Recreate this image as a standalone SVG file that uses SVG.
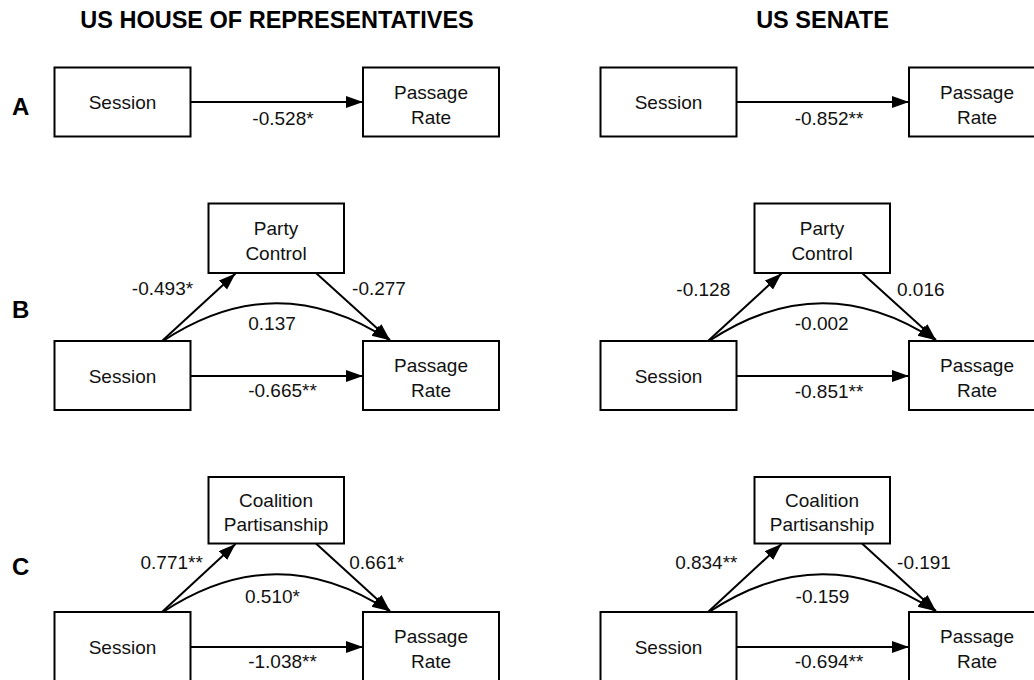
<svg xmlns="http://www.w3.org/2000/svg" width="1034" height="680" viewBox="0 0 1034 680">
<defs>
<marker id="ah" markerUnits="userSpaceOnUse" markerWidth="18" markerHeight="13" refX="17" refY="6" orient="auto">
<path d="M0,0 L17,6 L0,12 z" fill="#000"/>
</marker>
<style>
.box{fill:#fff;stroke:#000;stroke-width:2}
.t{font-family:"Liberation Sans",Arial,Helvetica,sans-serif;font-size:19px;text-anchor:middle;fill:#111}
.h{font-family:"Liberation Sans",Arial,Helvetica,sans-serif;font-size:23.5px;font-weight:bold;text-anchor:middle;fill:#000}
.p{font-family:"Liberation Sans",Arial,Helvetica,sans-serif;font-size:24px;font-weight:bold;fill:#000}
.c{fill:none;stroke:#000;stroke-width:2;marker-end:url(#ah)}
</style>
</defs>
<rect width="1034" height="680" fill="#fff"/>
<g id="titles">
<text class="h" x="277" y="27.5">US HOUSE OF REPRESENTATIVES</text>
<text class="h" x="822.5" y="27.5">US SENATE</text>
<text class="p" x="12" y="115">A</text>
<text class="p" x="12" y="318">B</text>
<text class="p" x="12" y="574.5">C</text>
</g>
<g id="connectors">
<line class="c" x1="190.5" y1="102" x2="363" y2="102"/>
<line class="c" x1="736.5" y1="102" x2="909" y2="102"/>
<line class="c" x1="190.5" y1="376" x2="363" y2="376"/>
<line class="c" x1="162" y1="341" x2="235.5" y2="273.5"/>
<line class="c" x1="316" y1="273" x2="390" y2="340"/>
<path class="c" d="M163,341 Q276,266 389,340"/>
<line class="c" x1="736.5" y1="376" x2="909" y2="376"/>
<line class="c" x1="708" y1="341" x2="781.5" y2="273.5"/>
<line class="c" x1="862" y1="273" x2="936" y2="340"/>
<path class="c" d="M709,341 Q822,266 935,340"/>
<line class="c" x1="190.5" y1="647" x2="363" y2="647"/>
<line class="c" x1="162" y1="612" x2="235.5" y2="544"/>
<line class="c" x1="316" y1="543.5" x2="390" y2="611"/>
<path class="c" d="M163,612 Q276,537 389,611"/>
<line class="c" x1="736.5" y1="647" x2="909" y2="647"/>
<line class="c" x1="708" y1="612" x2="781.5" y2="544"/>
<line class="c" x1="862" y1="543.5" x2="936" y2="611"/>
<path class="c" d="M709,612 Q822,537 935,611"/>
</g>
<g id="edge-labels">
<text class="t" x="283" y="125">-0.528*</text>
<text class="t" x="829" y="125">-0.852**</text>
<text class="t" x="162.5" y="295">-0.493*</text>
<text class="t" x="379" y="295">-0.277</text>
<text class="t" x="272" y="329.5">0.137</text>
<text class="t" x="282.5" y="397">-0.665**</text>
<text class="t" x="703.3" y="295.5">-0.128</text>
<text class="t" x="920.8" y="295.5">0.016</text>
<text class="t" x="821.7" y="329.5">-0.002</text>
<text class="t" x="829" y="397.5">-0.851**</text>
<text class="t" x="171.7" y="569">0.771**</text>
<text class="t" x="376.7" y="569">0.661*</text>
<text class="t" x="272.5" y="602.5">0.510*</text>
<text class="t" x="282.5" y="668.3">-1.038**</text>
<text class="t" x="706.3" y="569">0.834**</text>
<text class="t" x="924" y="569">-0.191</text>
<text class="t" x="822.5" y="602.5">-0.159</text>
<text class="t" x="829" y="668.3">-0.694**</text>
</g>
<g id="house-a-session"><rect class="box" x="54.5" y="67.5" width="136" height="69"/><text class="t" x="122.5" y="109">Session</text></g>
<g id="house-a-passage"><rect class="box" x="363" y="67.5" width="136" height="69"/><text class="t" x="431" y="98.5">Passage</text><text class="t" x="431" y="123.5">Rate</text></g>
<g id="senate-a-session"><rect class="box" x="600.5" y="67.5" width="136" height="69"/><text class="t" x="668.5" y="109">Session</text></g>
<g id="senate-a-passage"><rect class="box" x="909" y="67.5" width="136" height="69"/><text class="t" x="977" y="98.5">Passage</text><text class="t" x="977" y="123.5">Rate</text></g>
<g id="house-b-party"><rect class="box" x="208.5" y="203.5" width="135.5" height="69.5"/><text class="t" x="276" y="234.8">Party</text><text class="t" x="276" y="259.8">Control</text></g>
<g id="house-b-session"><rect class="box" x="54.5" y="341" width="136" height="69"/><text class="t" x="122.5" y="382.5">Session</text></g>
<g id="house-b-passage"><rect class="box" x="363" y="341" width="136" height="69"/><text class="t" x="431" y="372">Passage</text><text class="t" x="431" y="397">Rate</text></g>
<g id="senate-b-party"><rect class="box" x="754.5" y="203.5" width="135.5" height="69.5"/><text class="t" x="822" y="234.8">Party</text><text class="t" x="822" y="259.8">Control</text></g>
<g id="senate-b-session"><rect class="box" x="600.5" y="341" width="136" height="69"/><text class="t" x="668.5" y="382.5">Session</text></g>
<g id="senate-b-passage"><rect class="box" x="909" y="341" width="136" height="69"/><text class="t" x="977" y="372">Passage</text><text class="t" x="977" y="397">Rate</text></g>
<g id="house-c-coalition"><rect class="box" x="208.5" y="477" width="135.5" height="66.5"/><text class="t" x="276" y="506.8">Coalition</text><text class="t" x="276" y="531">Partisanship</text></g>
<g id="house-c-session"><rect class="box" x="54.5" y="612" width="136" height="69"/><text class="t" x="122.5" y="653.5">Session</text></g>
<g id="house-c-passage"><rect class="box" x="363" y="612" width="136" height="69"/><text class="t" x="431" y="643">Passage</text><text class="t" x="431" y="668">Rate</text></g>
<g id="senate-c-coalition"><rect class="box" x="754.5" y="477" width="135.5" height="66.5"/><text class="t" x="822" y="506.8">Coalition</text><text class="t" x="822" y="531">Partisanship</text></g>
<g id="senate-c-session"><rect class="box" x="600.5" y="612" width="136" height="69"/><text class="t" x="668.5" y="653.5">Session</text></g>
<g id="senate-c-passage"><rect class="box" x="909" y="612" width="136" height="69"/><text class="t" x="977" y="643">Passage</text><text class="t" x="977" y="668">Rate</text></g>
</svg>
